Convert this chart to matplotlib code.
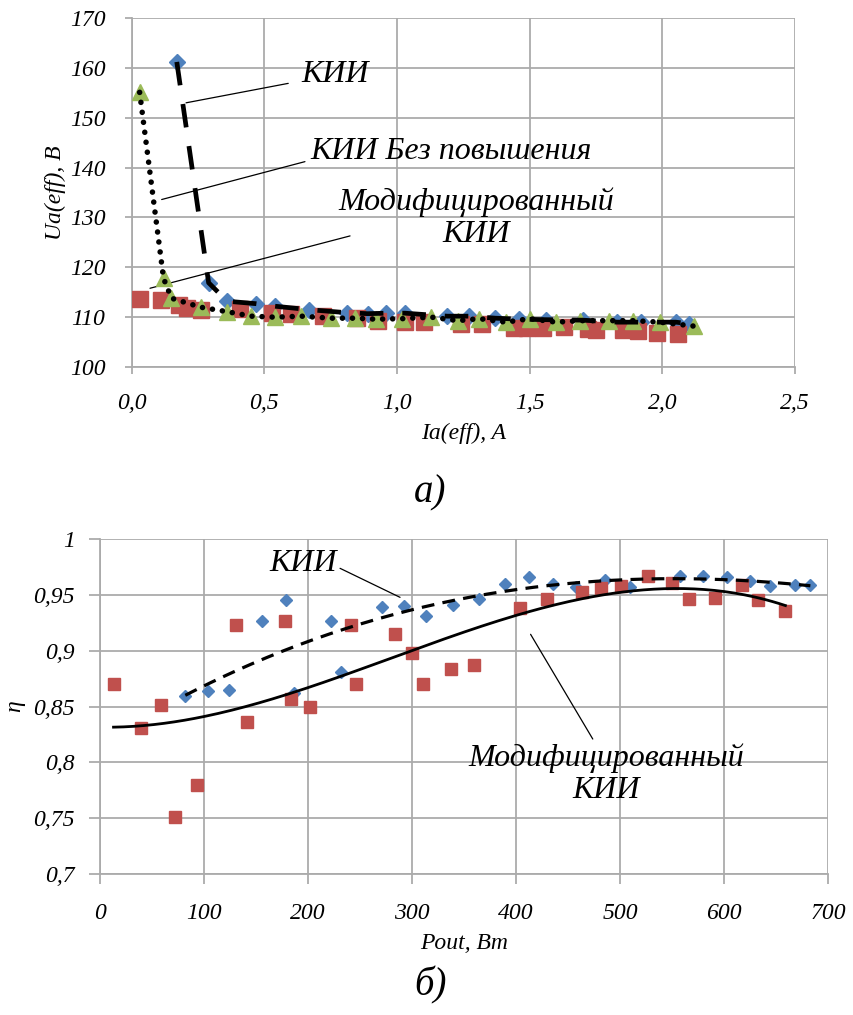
import numpy as np
import matplotlib
matplotlib.use("Agg")
import matplotlib.pyplot as plt

# ---------- panel a): RMS anode voltage vs RMS anode current ----------
ia_kii = [0.17, 0.29, 0.36, 0.47, 0.54, 0.67, 0.81, 0.89, 0.96, 1.03, 1.19, 1.27,
          1.37, 1.46, 1.56, 1.70, 1.83, 1.92, 2.05, 2.10]
ua_kii = [161.2, 116.9, 113.2, 112.7, 112.2, 111.5, 110.9, 110.7, 110.8, 110.8, 110.2, 110.2,
          109.8, 109.6, 109.5, 109.4, 109.0, 109.0, 109.0, 108.7]

ia_noboost = [0.03, 0.12, 0.15, 0.26, 0.36, 0.45, 0.54, 0.64, 0.75, 0.84, 0.92, 1.02,
              1.13, 1.23, 1.31, 1.41, 1.50, 1.60, 1.69, 1.80, 1.89, 1.99, 2.12]
ua_noboost = [155.1, 117.8, 113.8, 112.0, 111.1, 110.2, 110.0, 110.2, 109.8, 109.8, 109.6, 109.7,
              110.0, 109.3, 109.7, 109.0, 109.7, 109.0, 109.3, 109.3, 109.3, 109.0, 108.2]

ia_mod = [0.03, 0.11, 0.18, 0.21, 0.26, 0.41, 0.53, 0.60, 0.72, 0.85, 0.93, 1.03, 1.10,
          1.24, 1.32, 1.44, 1.49, 1.55, 1.63, 1.72, 1.75, 1.85, 1.91, 1.98, 2.06]
ua_mod = [113.6, 113.4, 112.5, 111.8, 111.4, 111.6, 110.9, 110.7, 110.2, 109.8, 109.2, 109.1, 109.1,
          108.7, 108.6, 107.8, 107.8, 107.8, 108.0, 107.7, 107.5, 107.4, 107.3, 106.8, 106.7]

top_xticks = [0.0, 0.5, 1.0, 1.5, 2.0, 2.5]
top_xlabels = ["0,0", "0,5", "1,0", "1,5", "2,0", "2,5"]
top_yticks = [100, 110, 120, 130, 140, 150, 160, 170]

# ---------- panel б): efficiency vs output power ----------
p_kii = [82, 104, 124, 156, 179, 187, 222, 232, 271, 292, 313, 339, 364, 389, 412,
         436, 458, 486, 510, 558, 580, 603, 625, 644, 668, 683]
eta_kii = [0.859, 0.864, 0.865, 0.927, 0.945, 0.862, 0.927, 0.881, 0.939, 0.940, 0.931,
           0.941, 0.946, 0.960, 0.966, 0.960, 0.957, 0.963, 0.957, 0.967, 0.967, 0.966,
           0.962, 0.958, 0.959, 0.959]

p_mod = [13, 39, 59, 72, 93, 131, 141, 178, 184, 202, 241, 246, 284, 300, 311, 337, 360,
         404, 430, 463, 482, 501, 527, 550, 566, 591, 617, 633, 659]
eta_mod = [0.870, 0.831, 0.851, 0.751, 0.780, 0.923, 0.836, 0.927, 0.857, 0.850, 0.923,
           0.870, 0.915, 0.898, 0.870, 0.884, 0.887, 0.938, 0.946, 0.953, 0.956, 0.958,
           0.967, 0.961, 0.946, 0.947, 0.959, 0.945, 0.936]

bot_xticks = [0, 100, 200, 300, 400, 500, 600, 700]
bot_yticks = [0.7, 0.75, 0.8, 0.85, 0.9, 0.95, 1.0]
bot_ylabels = ["0,7", "0,75", "0,8", "0,85", "0,9", "0,95", "1"]

BLUE = "#4f81bd"
RED = "#c0504d"
GREEN = "#9bbb59"
GRID = "#ababab"
FONT = "Liberation Serif"

plt.rcParams["font.family"] = [FONT, "DejaVu Serif"]
plt.rcParams["font.style"] = "italic"

fig = plt.figure(figsize=(8.54, 10.15), dpi=100)


def style_axes(ax):
    ax.grid(True, color=GRID, linewidth=1.3)
    ax.set_axisbelow(True)
    for side in ("top", "right"):
        ax.spines[side].set_visible(False)
    for side in ("left", "bottom"):
        ax.spines[side].set_color(GRID)
        ax.spines[side].set_linewidth(1.3)
    ax.tick_params(axis="both", colors=GRID, labelcolor="black", labelsize=17,
                   length=5, width=1.3)
    for lab in ax.get_xticklabels() + ax.get_yticklabels():
        lab.set_fontstyle("italic")


# ---------- top panel ----------
ax1 = fig.add_axes([0.1542, 0.6384, 0.7767, 0.3438])
ax1.set_xlim(0, 2.5)
ax1.set_ylim(100, 170)
ax1.set_xticks(top_xticks)
ax1.set_xticklabels(top_xlabels)
ax1.set_yticks(top_yticks)
style_axes(ax1)
ax1.tick_params(axis="x", pad=14)
ax1.tick_params(axis="y", pad=14)

ax1.plot(ia_kii, ua_kii, linestyle="none", marker="D", ms=8, color=BLUE, zorder=3)
ax1.plot(ia_mod, ua_mod, linestyle="none", marker="s", ms=11, color=RED, zorder=4)
ax1.plot(ia_noboost, ua_noboost, linestyle="none", marker="^", ms=12, color=GREEN, zorder=5)
ax1.plot(ia_kii, ua_kii, color="black", linewidth=3.4, linestyle=(0, (5, 4)), zorder=6)
ax1.plot(ia_noboost, ua_noboost, color="black", linewidth=4.0, linestyle=(0, (0.01, 1.8)),
         dash_capstyle="round", zorder=6)

ax1.set_xlabel("Ia(eff), A", fontsize=17, labelpad=6)
ax1.set_ylabel("Ua(eff), B", fontsize=17, labelpad=3)

lw_lead = 0.9
ax1.annotate("", xy=(0.205, 153.0), xytext=(0.590, 156.9),
             arrowprops=dict(arrowstyle="-", lw=lw_lead, color="black", shrinkA=0, shrinkB=0))
ax1.text(0.64, 158.6, "КИИ", fontsize=23, ha="left", va="center")
ax1.annotate("", xy=(0.113, 133.6), xytext=(0.653, 141.2),
             arrowprops=dict(arrowstyle="-", lw=lw_lead, color="black", shrinkA=0, shrinkB=0))
ax1.text(0.675, 143.2, "КИИ Без повышения", fontsize=23, ha="left", va="center")
ax1.annotate("", xy=(0.069, 115.8), xytext=(0.823, 126.3),
             arrowprops=dict(arrowstyle="-", lw=lw_lead, color="black", shrinkA=0, shrinkB=0))
ax1.text(1.298, 129.8, "Модифицированный\nКИИ", fontsize=23, ha="center", va="center",
         multialignment="center", linespacing=1.15)

fig.text(0.504, 1 - 493 / 1015, "а)", fontsize=28, ha="center", va="center", style="italic")

# ---------- bottom panel ----------
ax2 = fig.add_axes([0.1171, 0.1389, 0.8525, 0.3300])
ax2.set_xlim(0, 700)
ax2.set_ylim(0.7, 1.0)
ax2.set_xticks(bot_xticks)
ax2.set_yticks(bot_yticks)
ax2.set_yticklabels(bot_ylabels)
style_axes(ax2)
ax2.tick_params(axis="x", pad=14, length=7)
ax2.tick_params(axis="y", pad=10, length=8)

ax2.plot(p_kii, eta_kii, linestyle="none", marker="D", ms=6, color=BLUE, zorder=3)
ax2.plot(p_mod, eta_mod, linestyle="none", marker="s", ms=8, color=RED, zorder=4)

# third-order polynomial trend lines
fit_kii = np.polyfit(p_kii, eta_kii, 3)
xs_kii = np.linspace(min(p_kii), max(p_kii), 200)
ax2.plot(xs_kii, np.polyval(fit_kii, xs_kii), color="black", linewidth=2.3,
         linestyle=(0, (4, 2.6)), zorder=6)
fit_mod = np.polyfit(p_mod, eta_mod, 3)
xs_mod = np.linspace(min(p_mod), max(p_mod), 200)
ax2.plot(xs_mod, np.polyval(fit_mod, xs_mod), color="black", linewidth=2.0, zorder=6)

ax2.set_xlabel("Pout, Bm", fontsize=17, labelpad=6)
ax2.set_ylabel("η", fontsize=17, labelpad=6)

ax2.annotate("", xy=(288.5, 0.9478), xytext=(230.8, 0.9738),
             arrowprops=dict(arrowstyle="-", lw=lw_lead, color="black", shrinkA=0, shrinkB=0))
ax2.text(195, 0.9785, "КИИ", fontsize=23, ha="center", va="center")
ax2.annotate("", xy=(414, 0.9147), xytext=(473.8, 0.8209),
             arrowprops=dict(arrowstyle="-", lw=lw_lead, color="black", shrinkA=0, shrinkB=0))
ax2.text(487, 0.7895, "Модифицированный\nКИИ", fontsize=23, ha="center", va="center",
         multialignment="center", linespacing=1.15)

fig.text(0.504, 1 - 985 / 1015, "б)", fontsize=28, ha="center", va="center", style="italic")

fig.savefig("out.png", dpi=100)
